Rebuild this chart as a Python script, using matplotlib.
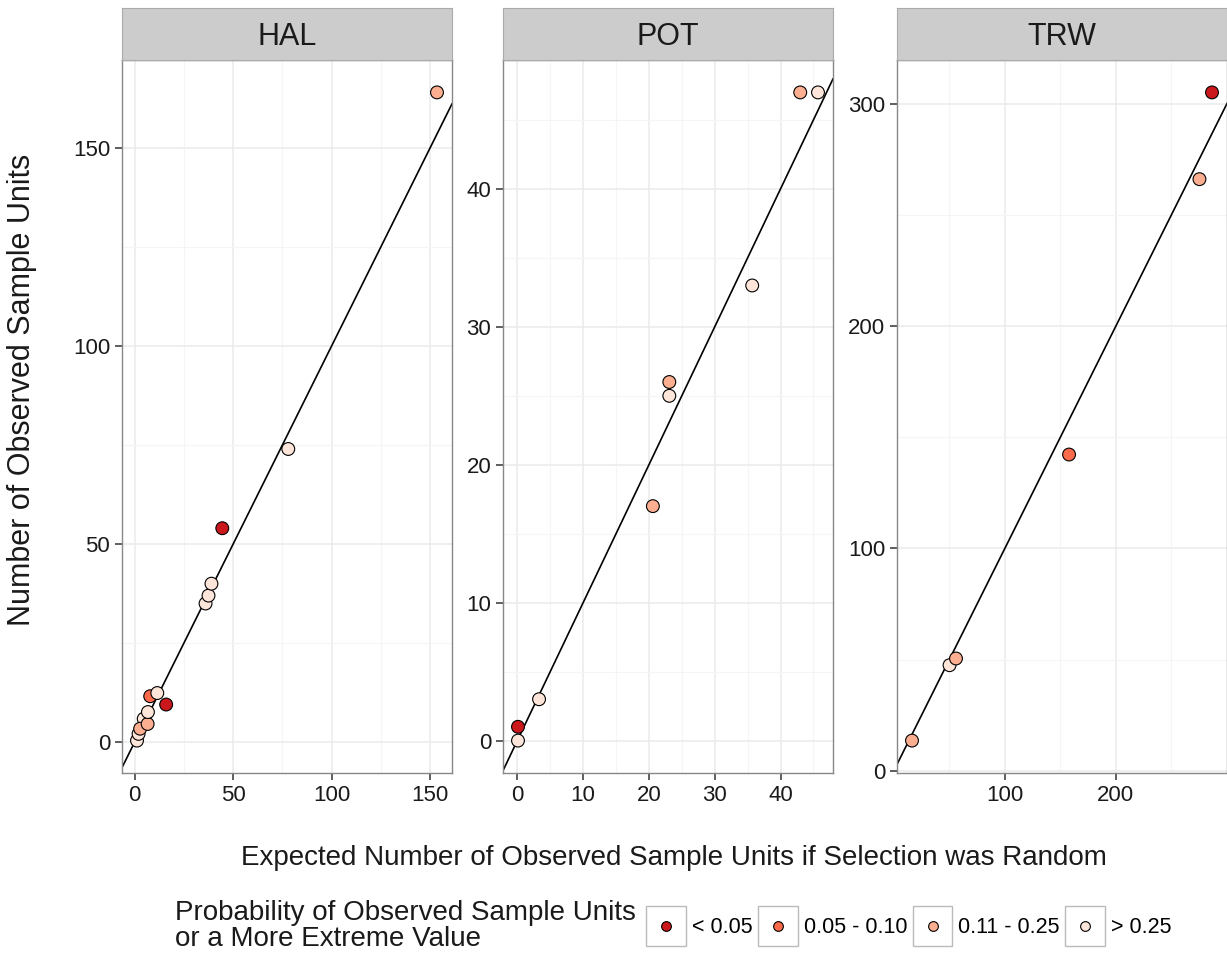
import numpy as np
import matplotlib.pyplot as plt
from matplotlib.lines import Line2D
from matplotlib.patches import Rectangle
from matplotlib.legend_handler import HandlerBase

plt.rcParams['font.family'] = ['Liberation Sans', 'DejaVu Sans']

# classes of the probability (index into prob_labels / prob_colors)
prob_labels = ["< 0.05", "0.05 - 0.10", "0.11 - 0.25", "> 0.25"]
prob_colors = ["#CB181D", "#FB6A4A", "#FCAE91", "#FEE5D9"]

panels = ["HAL", "POT", "TRW"]

hal_expected = [1.2, 2.0, 4.6, 2.8, 6.6, 6.75, 16.0, 7.9, 11.5, 36.0, 37.5, 39.0, 44.5, 78.0, 153.5]
hal_observed = [0.4, 2.1, 5.9, 3.4, 4.6, 7.6, 9.5, 11.6, 12.4, 35.0, 37.0, 40.0, 54.0, 74.0, 164.0]
hal_class = [3, 3, 3, 2, 2, 3, 0, 1, 3, 3, 3, 3, 0, 3, 2]

pot_expected = [0.1, 0.1, 3.3, 20.6, 23.1, 23.1, 35.7, 43.0, 45.7]
pot_observed = [0.0, 1.0, 3.0, 17.0, 25.0, 26.0, 33.0, 47.0, 47.0]
pot_class = [3, 0, 3, 2, 3, 2, 3, 2, 3]

trw_expected = [16.4, 50.2, 56.0, 157.8, 275.2, 286.5]
trw_observed = [13.6, 47.5, 50.5, 142.2, 266.0, 305.0]
trw_class = [2, 3, 2, 1, 2, 0]

expected = [hal_expected, pot_expected, trw_expected]
observed = [hal_observed, pot_observed, trw_observed]
classes = [hal_class, pot_class, trw_class]

major_x = [[0, 50, 100, 150], [0, 10, 20, 30, 40], [100, 200]]
major_y = [[0, 50, 100, 150], [0, 10, 20, 30, 40], [0, 100, 200, 300]]
minor_x = [[25, 75, 125], [5, 15, 25, 35, 45], [50, 150, 250]]
minor_y = [[25, 75, 125], [5, 15, 25, 35, 45], [50, 150, 250]]


class BoxDot(HandlerBase):
    # ggplot-like legend key: grey-edged box with a centred point
    def create_artists(self, legend, orig_handle, xdescent, ydescent, width, height,
                       fontsize, trans):
        box = Rectangle((-xdescent, -ydescent), width, height, facecolor="white",
                        edgecolor="#BBBBBB", lw=1, transform=trans)
        dot = Line2D([width / 2 - xdescent], [height / 2 - ydescent], ls="none", marker="o",
                     markersize=7, markerfacecolor=orig_handle.get_markerfacecolor(),
                     markeredgecolor="black", markeredgewidth=0.8, transform=trans)
        return [box, dot]


W, H = 1227, 957
fig = plt.figure(figsize=(W / 100, H / 100), dpi=100)

lefts = [122, 503, 897]
width = 330
top, bottom = 60, 773

for i, name in enumerate(panels):
    ax = fig.add_axes([lefts[i] / W, (H - bottom) / H, width / W, (bottom - top) / H])
    x = np.array(expected[i])
    y = np.array(observed[i])
    cols = [prob_colors[c] for c in classes[i]]

    # ggplot-style 5% expansion
    xr = x.max() - x.min()
    yr = y.max() - y.min()
    ax.set_xlim(x.min() - 0.05 * xr, x.max() + 0.05 * xr)
    ax.set_ylim(y.min() - 0.05 * yr, y.max() + 0.05 * yr)

    ax.axline((0, 0), slope=1, color="black", lw=1.2, zorder=2)
    ax.scatter(x, y, s=85, c=cols, edgecolors="black", linewidths=0.8, zorder=3)

    ax.set_xticks(major_x[i])
    ax.set_yticks(major_y[i])
    ax.set_xticks(minor_x[i], minor=True)
    ax.set_yticks(minor_y[i], minor=True)
    ax.grid(which="major", color="#EBEBEB", lw=1.1)
    ax.grid(which="minor", color="#F5F5F5", lw=0.8)
    ax.set_axisbelow(True)
    ax.tick_params(which="major", length=5, width=1.1, color="#333333",
                   labelsize=16, labelcolor="#1a1a1a")
    ax.tick_params(which="minor", length=0)
    for s in ax.spines.values():
        s.set_color("#888888")
        s.set_linewidth(1.0)

    sax = fig.add_axes([lefts[i] / W, (H - top) / H, width / W, 52 / H])
    sax.set_facecolor("#CCCCCC")
    sax.set_xticks([])
    sax.set_yticks([])
    for s in sax.spines.values():
        s.set_color("#AAAAAA")
    sax.text(0.5, 0.45, name, ha="center", va="center", fontsize=22, color="#1a1a1a",
             transform=sax.transAxes)

fig.text(22 / W, 1 - 390 / H, "Number of Observed Sample Units", rotation=90,
         ha="center", va="center", fontsize=22, color="#1a1a1a")
fig.text(674 / W, 1 - 858 / H, "Expected Number of Observed Sample Units if Selection was Random",
         ha="center", va="center", fontsize=20, color="#1a1a1a")

fig.text(175 / W, 1 - 926 / H, "Probability of Observed Sample Units\nor a More Extreme Value",
         ha="left", va="center", fontsize=20, color="#1a1a1a", linespacing=0.95)

handles = [Line2D([], [], ls="none", marker="o", markerfacecolor=c) for c in prob_colors]

fig.legend(handles, prob_labels, handler_map={Line2D: BoxDot()},
           loc="center left", bbox_to_anchor=(646 / W, 1 - 926 / H), ncol=4, frameon=False,
           fontsize=15.5, handlelength=1.85, handleheight=2.5, handletextpad=0.28,
           columnspacing=0.25, borderpad=0, borderaxespad=0)

plt.savefig("out.png", dpi=100)
